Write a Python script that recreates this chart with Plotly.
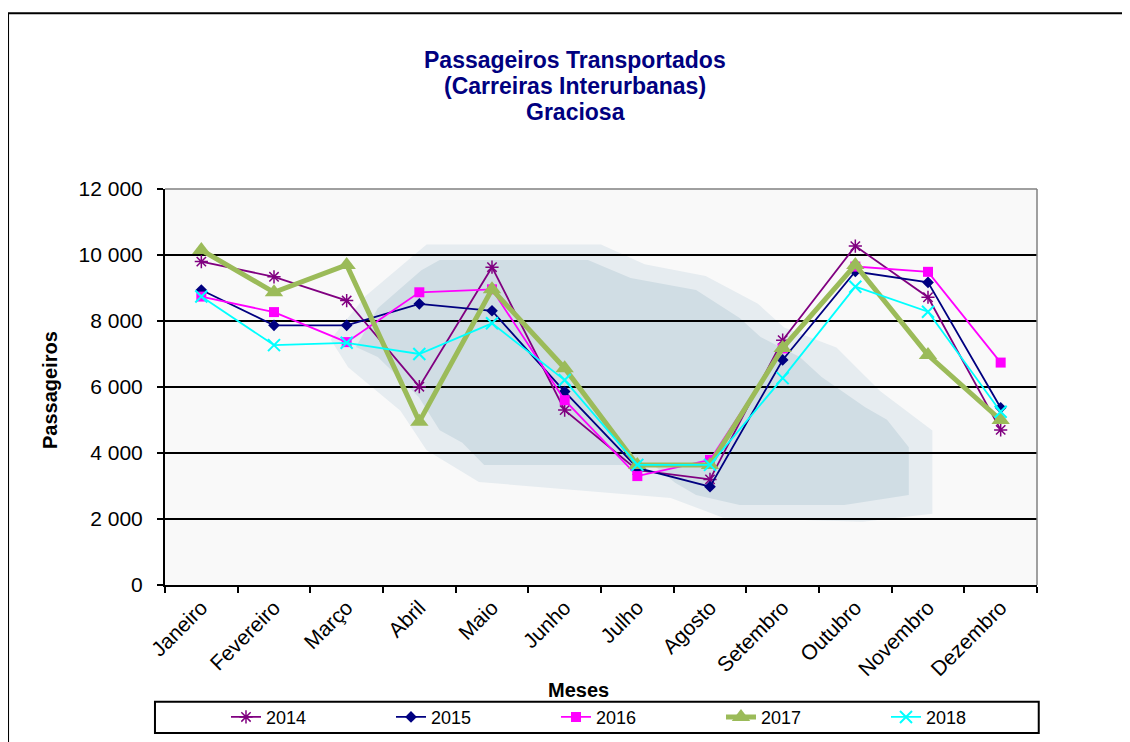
import plotly.graph_objects as go

meses = ["Janeiro", "Fevereiro", "Março", "Abril", "Maio", "Junho",
         "Julho", "Agosto", "Setembro", "Outubro", "Novembro", "Dezembro"]

v2014 = [9800, 9340, 8620, 6010, 9630, 5300, 3480, 3200, 7420, 10270, 8720, 4700]
v2015 = [8940, 7870, 7870, 8520, 8310, 5860, 3550, 2980, 6820, 9500, 9170, 5370]
v2016 = [8740, 8270, 7360, 8870, 8960, 5600, 3300, 3790, 7170, 9650, 9490, 6740]
v2017 = [10150, 8870, 9700, 4950, 8960, 6570, 3640, 3640, 7180, 9700, 6970, 5000]
v2018 = [8740, 7270, 7340, 7000, 7930, 6210, 3640, 3640, 6270, 9040, 8280, 5250]

titulo = ["Passageiros Transportados", "(Carreiras Interurbanas)", "Graciosa"]

fig = go.Figure()

# background "cloud" of the plot area (domain fractions)
halo = [(0.30, 0.86), (0.50, 0.86), (0.55, 0.81), (0.62, 0.78), (0.68, 0.71),
        (0.71, 0.65), (0.77, 0.60), (0.82, 0.49), (0.88, 0.39), (0.88, 0.18),
        (0.80, 0.16), (0.64, 0.17), (0.58, 0.22), (0.36, 0.26), (0.30, 0.34),
        (0.27, 0.44), (0.21, 0.55), (0.19, 0.62), (0.23, 0.73)]
cloud = [(0.315, 0.821), (0.485, 0.821), (0.534, 0.775), (0.609, 0.745),
         (0.659, 0.674), (0.683, 0.626), (0.728, 0.576), (0.753, 0.525),
         (0.803, 0.449), (0.828, 0.417), (0.853, 0.348), (0.853, 0.227),
         (0.779, 0.202), (0.659, 0.202), (0.609, 0.227), (0.585, 0.258),
         (0.560, 0.303), (0.366, 0.303), (0.341, 0.359), (0.315, 0.391),
         (0.291, 0.475), (0.244, 0.576), (0.219, 0.601), (0.244, 0.699),
         (0.294, 0.795)]


def path(pts):
    return "M " + " L ".join(f"{x},{y}" for x, y in pts) + " Z"


fig.add_shape(type="path", path=path(halo), xref="x domain", yref="y domain",
              fillcolor="#E6ECF0", line_width=0, layer="below")
fig.add_shape(type="path", path=path(cloud), xref="x domain", yref="y domain",
              fillcolor="#D0DDE4", line_width=0, layer="below")

fig.add_trace(go.Scatter(x=meses, y=v2014, name="2014", mode="lines+markers",
                         line=dict(color="#800080", width=1.8),
                         marker=dict(symbol="asterisk-open", size=11,
                                     line=dict(color="#800080", width=1.5))))
fig.add_trace(go.Scatter(x=meses, y=v2015, name="2015", mode="lines+markers",
                         line=dict(color="#000080", width=1.8),
                         marker=dict(symbol="diamond", size=9, color="#000080")))
fig.add_trace(go.Scatter(x=meses, y=v2016, name="2016", mode="lines+markers",
                         line=dict(color="#FF00FF", width=1.8),
                         marker=dict(symbol="square", size=10, color="#FF00FF")))
fig.add_trace(go.Scatter(x=meses, y=v2017, name="2017", mode="lines+markers",
                         line=dict(color="#9BBB59", width=5),
                         marker=dict(symbol="triangle-up", size=16, color="#9BBB59")))
fig.add_trace(go.Scatter(x=meses, y=v2018, name="2018", mode="lines+markers",
                         line=dict(color="#00FFFF", width=1.8),
                         marker=dict(symbol="x-thin-open", size=12,
                                     line=dict(color="#00FFFF", width=2))))

# outer chart frame, plot-area border and legend box
fig.add_shape(type="rect", xref="paper", yref="paper", x0=-0.18, x1=1.2,
              y0=-0.5, y1=1.444, line=dict(color="black", width=2), layer="below")
fig.add_shape(type="line", xref="paper", yref="paper", x0=0, x1=1, y0=1, y1=1,
              line=dict(color="#808080", width=1.5))
fig.add_shape(type="line", xref="paper", yref="paper", x0=1, x1=1, y0=0, y1=1,
              line=dict(color="#808080", width=1.5))
fig.add_shape(type="rect", xref="paper", yref="paper", x0=-0.0115, x1=1.002,
              y0=-0.374, y1=-0.295, line=dict(color="black", width=2))

for i, linha in enumerate(titulo):
    fig.add_annotation(text=f"<b>{linha}</b>", xref="paper", yref="paper",
                       x=(575 - 165) / 872, y=(585 - 60 - 26 * i) / 396,
                       xanchor="center", yanchor="middle", showarrow=False,
                       font=dict(size=23, color="#000080"))

fig.add_annotation(text="<b>Meses</b>", xref="paper", yref="paper", x=0.474,
                   y=-0.265, xanchor="center", yanchor="middle", showarrow=False,
                   font=dict(size=20, color="black"))
fig.add_annotation(text="<b>Passageiros</b>", xref="paper", yref="paper",
                   x=-0.132, y=0.492, xanchor="center", yanchor="middle",
                   textangle=-90, showarrow=False,
                   font=dict(size=20, color="black"))

fig.update_layout(
    width=1130, height=742,
    margin=dict(l=157, r=101, t=181, b=165, autoexpand=False),
    paper_bgcolor="white", plot_bgcolor="#F9F9F9",
    font=dict(family="Arial, Liberation Sans, sans-serif", size=21, color="black"),
    separators=", ",
    legend=dict(orientation="h", x=0.543, y=-0.334, xanchor="center",
                yanchor="middle", borderwidth=0, font=dict(size=18),
                entrywidth=120, bgcolor="rgba(0,0,0,0)"),
    showlegend=True,
)
fig.update_xaxes(showline=True, linecolor="black", linewidth=2,
                 ticks="outside", ticklen=6, tickcolor="black", tickwidth=1.5,
                 tickson="boundaries", tickangle=-45, showgrid=False,
                 range=[-0.5, 11.5])
fig.update_yaxes(range=[0, 12000], dtick=2000, tickformat=",d",
                 showline=True, linecolor="black", linewidth=2,
                 ticks="outside", ticklen=6, tickcolor="black", tickwidth=1.5,
                 ticklabelstandoff=10,
                 showgrid=True, gridcolor="black", gridwidth=1.5,
                 zeroline=False)

fig.write_html("out.html")
